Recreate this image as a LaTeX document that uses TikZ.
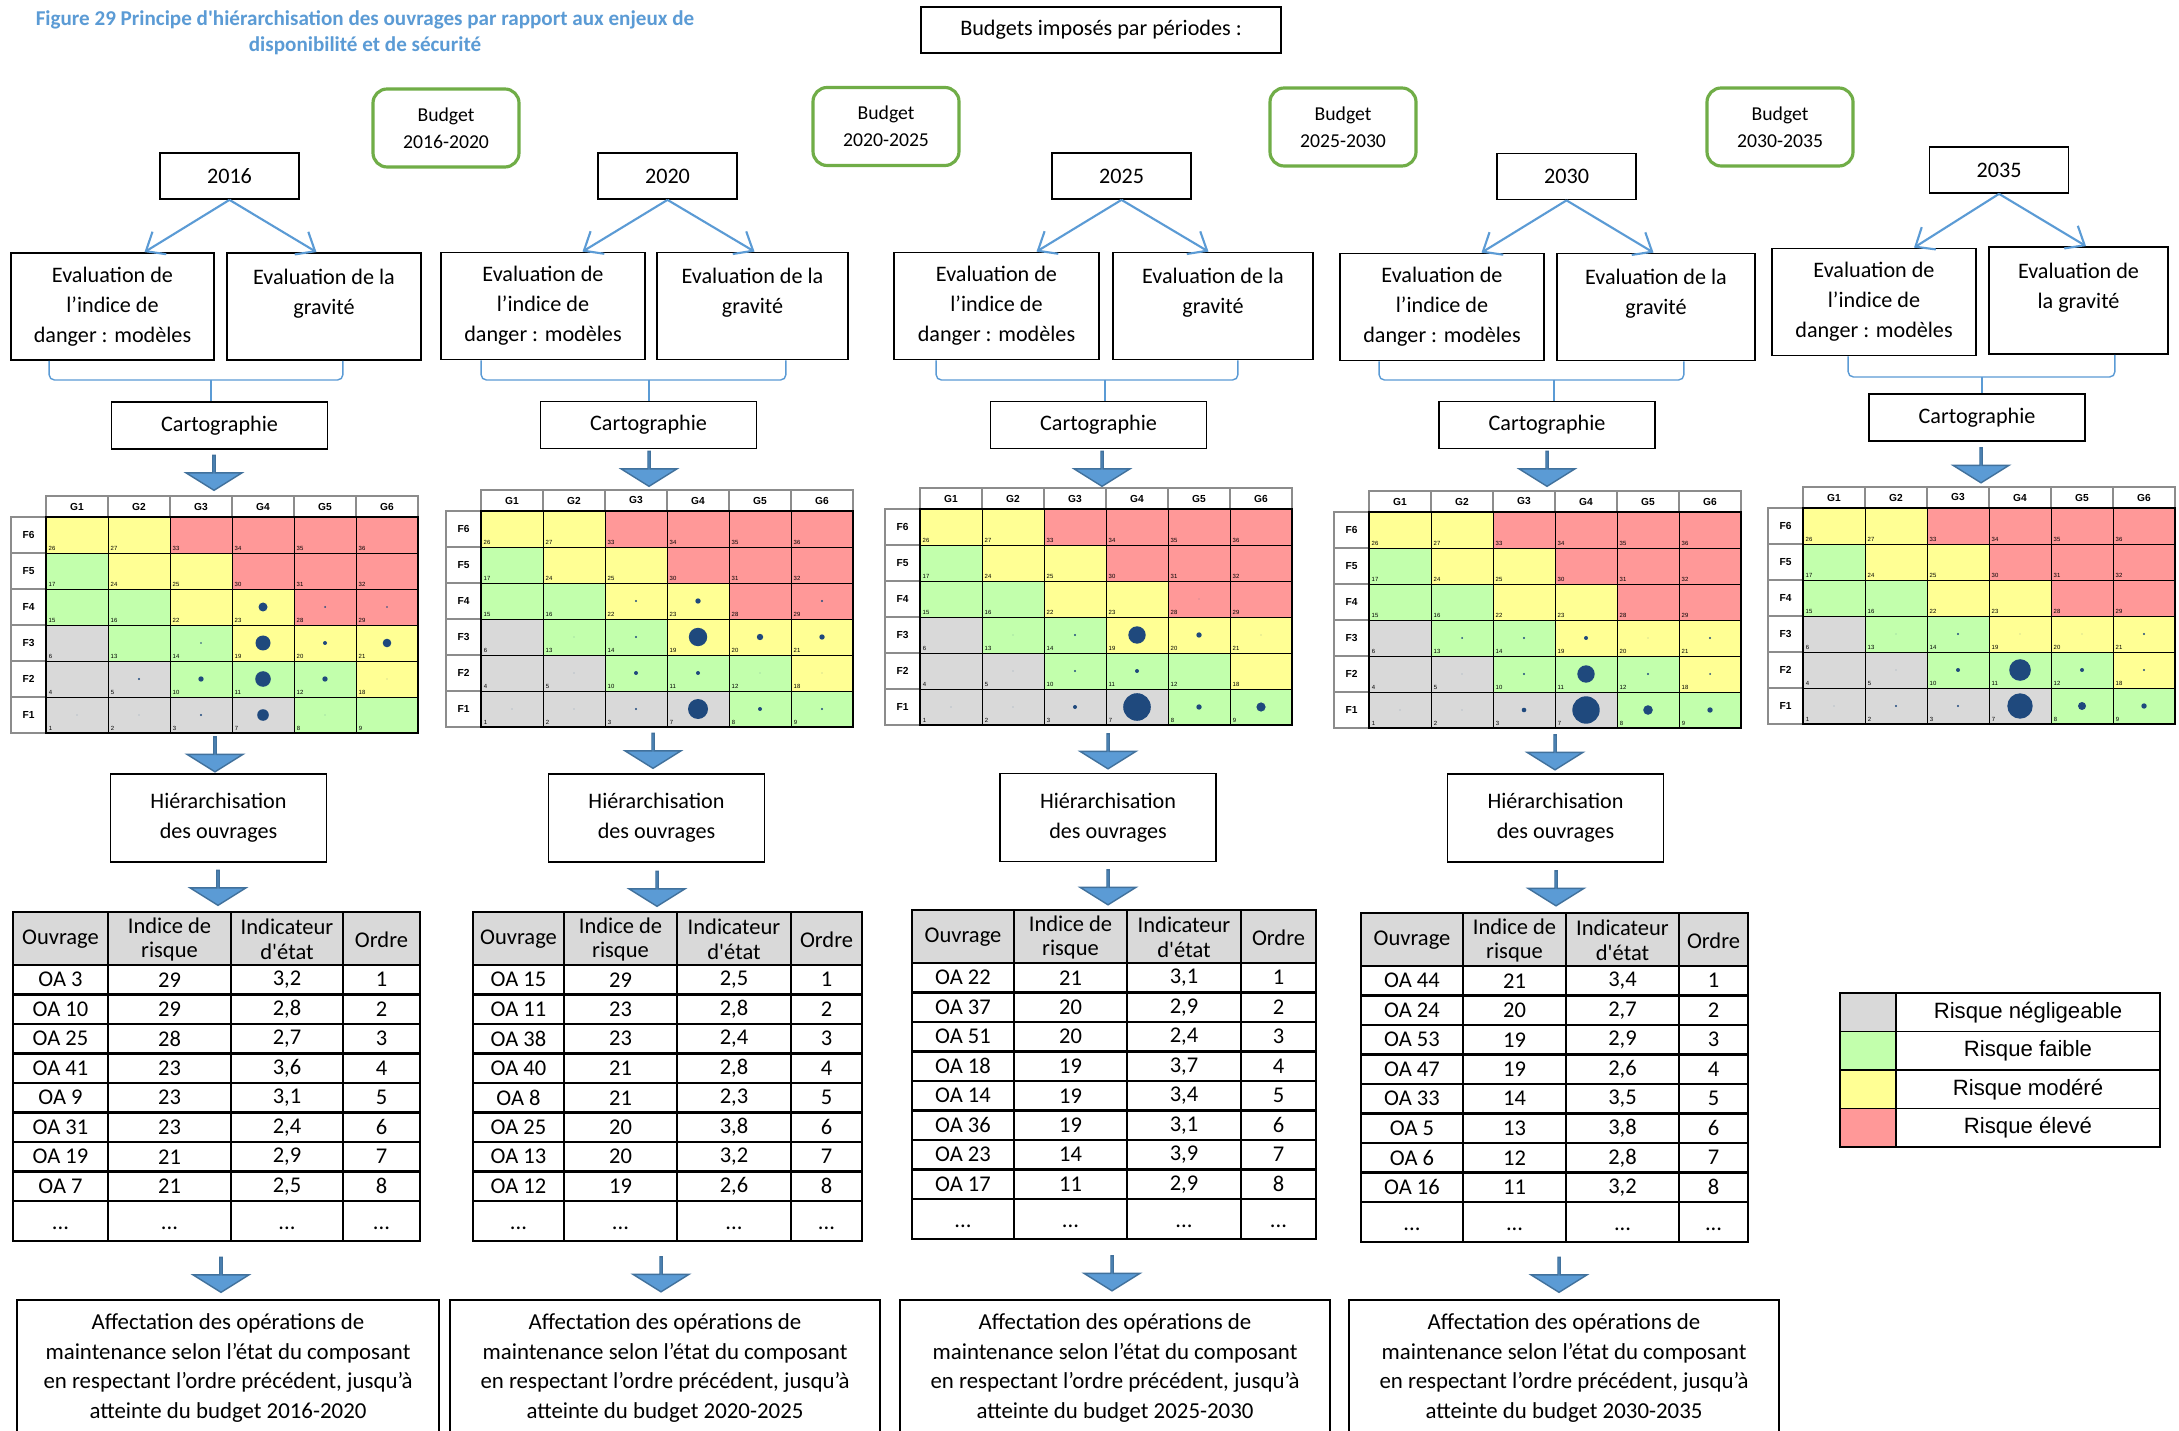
\documentclass[tikz,border=0pt]{standalone}
\usepackage{fontspec}
\setmainfont{Carlito}
\newfontfamily\arialfont{Liberation Sans}
\usetikzlibrary{arrows.meta,shapes.arrows}

\newdimen\px \px=0.01cm

\definecolor{bleu}{HTML}{5B9BD5}
\definecolor{bleufonce}{HTML}{41719C}
\definecolor{vert}{HTML}{70AD47}
\definecolor{rkN}{RGB}{217,217,217}
\definecolor{rkG}{RGB}{194,255,172}
\definecolor{rkY}{RGB}{255,255,148}
\definecolor{rkR}{RGB}{255,152,152}
\definecolor{point}{RGB}{31,73,125}

\tikzset{
  box/.style={draw, line width=0.5pt, align=center, inner sep=0pt, font=\fontsize{6.3}{8.5}\selectfont},
  yearbox/.style={box, minimum width=139\px, minimum height=46\px},
  evalbox/.style={box, minimum height=107\px},
  cartobox/.style={box, minimum width=216\px, minimum height=47\px},
  hierbox/.style={box, minimum width=216\px, minimum height=88\px},
  affbox/.style={draw, line width=0.5pt, anchor=north, minimum width=430\px, minimum height=200\px},
  afftext/.style={align=center, inner sep=0pt, font=\fontsize{6.5}{8.5}\selectfont},
  budgetbox/.style={draw=vert, line width=0.9pt, rounded corners=4pt, align=center, inner sep=0pt,
    minimum width=146\px, minimum height=78\px, font=\fontsize{5.6}{7.7}\selectfont},
  titretxt/.style={align=center, text=bleu, font=\bfseries\fontsize{6}{7.4}\selectfont},
  fleche/.style={single arrow, draw=bleufonce, fill=bleu, line width=0.4pt, rotate=-90, inner sep=0pt,
    minimum height=35\px, minimum width=56\px, single arrow head extend=18\px, single arrow tip angle=116},
  varr/.style={draw=bleu, line width=0.6pt, -{Straight Barb[length=4.5pt,width=7.5pt]}},
  brc/.style={draw=bleu, line width=0.4pt, rounded corners=1.5pt},
  mhead/.style={draw=black!45, fill=white, inner sep=0pt, minimum width=62\px, minimum height=21\px,
    font=\arialfont\bfseries\fontsize{2.9}{3}\selectfont},
  mcell/.style={draw=black, line width=0.25pt},
  mnum/.style={anchor=south west, inner sep=0pt, font=\arialfont\fontsize{1.7}{2}\selectfont},
  tabline/.style={line width=0.8pt},
  tabtxt/.style={align=center, inner sep=0pt, font=\fontsize{6.4}{7.1}\selectfont},
  legcolor/.style={draw, line width=0.5pt, minimum width=56\px, minimum height=38.5\px, inner sep=0pt},
  legtext/.style={draw, line width=0.5pt, minimum width=264\px, minimum height=38.5\px, inner sep=0pt,
    font=\arialfont\fontsize{6.3}{7}\selectfont}
}

\begin{document}
\begin{tikzpicture}[x=0.01cm, y=-0.01cm]
  \fill[white] (0,0) rectangle (2179,1431);
  \useasboundingbox (0,0) rectangle (2179,1431);

  % titre et budgets
  \node[titretxt] (titre) at (365,33) {Figure 29 Principe d\textquotesingle hiérarchisation des ouvrages par rapport aux enjeux de\\disponibilité et de sécurité};
  \node[box, minimum width=360\px, minimum height=46\px] (budgets) at (1101,30) {Budgets imposés par périodes :};
  \node[budgetbox] (b1) at (446,128) {Budget\\2016-2020};
  \node[budgetbox] (b2) at (886,126.5) {Budget\\2020-2025};
  \node[budgetbox] (b3) at (1343,127) {Budget\\2025-2030};
  \node[budgetbox] (b4) at (1780,127) {Budget\\2030-2035};

  % annees
  \node[yearbox] (a1) at (229.5,176) {2016};
  \node[yearbox] (a2) at (667.5,176) {2020};
  \node[yearbox] (a3) at (1121.5,176) {2025};
  \node[yearbox] (a4) at (1566.5,176.5) {2030};
  \node[yearbox] (a5) at (1999,170) {2035};

  % evaluations
  \node[evalbox, minimum width=203\px] (ed1) at (112.5,306.5) {Evaluation de\\l’indice de\\danger : modèles};
  \node[evalbox, minimum width=194\px] (eg1) at (324,306.5) {Evaluation de la\\gravité\\~};
  \node[evalbox, minimum width=204\px] (ed2) at (543,306) {Evaluation de\\l’indice de\\danger : modèles};
  \node[evalbox, minimum width=191\px] (eg2) at (752.5,306) {Evaluation de la\\gravité\\~};
  \node[evalbox, minimum width=205\px] (ed3) at (996.5,306) {Evaluation de\\l’indice de\\danger : modèles};
  \node[evalbox, minimum width=200\px] (eg3) at (1213,306) {Evaluation de la\\gravité\\~};
  \node[evalbox, minimum width=204\px] (ed4) at (1442,307) {Evaluation de\\l’indice de\\danger : modèles};
  \node[evalbox, minimum width=198\px] (eg4) at (1656,307) {Evaluation de la\\gravité\\~};
  \node[evalbox, minimum width=204\px] (ed5) at (1874,302) {Evaluation de\\l’indice de\\danger : modèles};
  \node[evalbox, minimum width=179\px] (eg5) at (2078.5,300.5) {Evaluation de\\la gravité\\~};

  \foreach \i in {1,...,5}{
    \draw[varr] (a\i.south) -- ([xshift=-85\px]a\i.south |- ed\i.north);
    \draw[varr] (a\i.south) -- ([xshift=87\px]a\i.south |- eg\i.north);
  }

  % cartographie
  \node[cartobox] (c1) at (219.5,425.5) {Cartographie};
  \node[cartobox] (c2) at (648.5,425) {Cartographie};
  \node[cartobox] (c3) at (1098.5,425) {Cartographie};
  \node[cartobox] (c4) at (1547,425) {Cartographie};
  \node[cartobox] (c5) at (1977,417.5) {Cartographie};

  % accolades
  \coordinate (k1) at (211,380);
  \coordinate (k2) at (649,380);
  \coordinate (k3) at (1105,380);
  \coordinate (k4) at (1554,380);
  \coordinate (k5) at (1982,377);
  \draw[brc] ([xshift=39\px]ed1.south west) |- (k1) -| ([xshift=-79\px]eg1.south east);
  \draw[brc] ([xshift=41\px]ed2.south west) |- (k2) -| ([xshift=-63\px]eg2.south east);
  \draw[brc] ([xshift=43\px]ed3.south west) |- (k3) -| ([xshift=-76\px]eg3.south east);
  \draw[brc] ([xshift=40\px]ed4.south west) |- (k4) -| ([xshift=-72\px]eg4.south east);
  \draw[brc] ([xshift=77\px]ed5.south west) |- (k5) -| ([xshift=-54\px]eg5.south east);
  \foreach \i in {1,...,5}
    \draw[brc] (k\i) -- (k\i |- c\i.north);

  % fleches pleines
  \node[fleche] (f1a) at (214,472.5) {};
  \node[fleche] (f1b) at (215,754) {};
  \node[fleche] (f1c) at (218,887.5) {};
  \node[fleche] (f1d) at (221,1274.5) {};
  \node[fleche] (f2a) at (649,468.5) {};
  \node[fleche] (f2b) at (653,750.5) {};
  \node[fleche] (f2c) at (657,888.5) {};
  \node[fleche] (f2d) at (661,1274) {};
  \node[fleche] (f3a) at (1102,468.5) {};
  \node[fleche] (f3b) at (1108,751) {};
  \node[fleche] (f3c) at (1108,887) {};
  \node[fleche] (f3d) at (1112,1273) {};
  \node[fleche] (f4a) at (1547,468.5) {};
  \node[fleche] (f4b) at (1555,752) {};
  \node[fleche] (f4c) at (1556,888) {};
  \node[fleche] (f4d) at (1559,1274.5) {};
  \node[fleche] (f5a) at (1981,465) {};

  % matrices de risque
  \foreach \m/\gx/\gy/\pts in {
    1/46/517/{4/3/4.5,5/3/1,6/3/0.8,3/4/0.8,4/4/7.5,5/4/2,6/4/4.3,2/5/1.2,3/5/2.7,4/5/7.8,5/5/2.7,6/5/0.4,1/6/0.4,2/6/0.4,3/6/1.2,4/6/5.8,5/6/0.4},
    2/481/511/{3/3/1.2,4/3/2.7,6/3/1.2,2/4/0.4,3/4/1.2,4/4/9.2,5/4/3.2,6/4/2.7,2/5/0.4,3/5/2,4/5/2,5/5/0.4,6/5/0.4,1/6/0.4,2/6/0.4,3/6/1.2,4/6/10,5/6/2,6/6/1.2},
    3/920/509/{5/3/0.4,2/4/0.4,3/4/1.2,4/4/8.7,5/4/2.7,6/4/0.4,2/5/0.4,3/5/1.2,4/5/2,1/6/0.4,2/6/0.4,3/6/2,4/6/13.8,5/6/2.7,6/6/4.6},
    4/1369/512/{2/4/1,3/4/1.2,4/4/2,5/4/0.4,6/4/1.2,2/5/0.4,3/5/1.2,4/5/8.7,5/5/1.2,6/5/1,1/6/0.4,2/6/0.4,3/6/2.3,4/6/13.7,5/6/4.8,6/6/2.7},
    5/1803/508/{2/4/0.4,3/4/1.2,4/4/0.4,5/4/0.4,6/4/1.2,2/5/0.4,3/5/2,4/5/10.8,5/5/2,6/5/1.2,1/6/0.4,2/6/1.2,3/6/1.2,4/6/12.7,5/6/4,6/6/2.7}}{
    \foreach \col in {1,...,6}
      \node[mhead] (m\m-g\col) at ({\gx+(\col-0.5)*62},{\gy-10.5}) {G\col};
    \foreach \li in {1,...,6}{
      \pgfmathtruncatemacro\fl{7-\li}
      \node[mhead, minimum width=35\px, minimum height=36\px] (m\m-f\fl) at ({\gx-17.5},{\gy+(\li-0.5)*36}) {F\fl};
    }
    \foreach \li/\ligne in {1/{Y/26,Y/27,R/33,R/34,R/35,R/36}, 2/{G/17,Y/24,Y/25,R/30,R/31,R/32},
        3/{G/15,G/16,Y/22,Y/23,R/28,R/29}, 4/{N/6,G/13,G/14,Y/19,Y/20,Y/21},
        5/{N/4,N/5,G/10,G/11,G/12,Y/18}, 6/{N/1,N/2,N/3,N/7,G/8,G/9}}
      \foreach \cl/\num [count=\col] in \ligne {
        \draw[mcell, fill=rk\cl] ({\gx+(\col-1)*62},{\gy+(\li-1)*36}) rectangle ++(62,36);
        \node[mnum] (m\m-n\num) at ({\gx+(\col-1)*62+2},{\gy+\li*36-1.5}) {\num};
      }
    \draw[line width=0.5pt] (\gx,\gy) rectangle ++(372,216);
    \foreach \dc/\dr/\rad in \pts
      \fill[point] ({\gx+(\dc-0.5)*62},{\gy+(\dr-0.5)*36}) circle[radius=\rad\px];
  }

  % hierarchisation
  \node[hierbox] (h1) at (218.5,818) {Hiérarchisation\\des ouvrages};
  \node[hierbox] (h2) at (656.5,818) {Hiérarchisation\\des ouvrages};
  \node[hierbox] (h3) at (1108,817.5) {Hiérarchisation\\des ouvrages};
  \node[hierbox] (h4) at (1555.5,818) {Hiérarchisation\\des ouvrages};

  % tableaux
  \foreach \tb/\xa/\xb/\xc/\xd/\xe/\ty/\lignes in {
    1/13/108/231/343/420/912/{OA 3/29/{3,2},OA 10/29/{2,8},OA 25/28/{2,7},OA 41/23/{3,6},OA 9/23/{3,1},OA 31/23/{2,4},OA 19/21/{2,9},OA 7/21/{2,5}},
    2/473/564/677/791/862/912/{OA 15/29/{2,5},OA 11/23/{2,8},OA 38/23/{2,4},OA 40/21/{2,8},OA 8/21/{2,3},OA 25/20/{3,8},OA 13/20/{3,2},OA 12/19/{2,6}},
    3/912/1014/1127/1241/1316/910/{OA 22/21/{3,1},OA 37/20/{2,9},OA 51/20/{2,4},OA 18/19/{3,7},OA 14/19/{3,4},OA 36/19/{3,1},OA 23/14/{3,9},OA 17/11/{2,9}},
    4/1361/1463/1566/1679/1748/913/{OA 44/21/{3,4},OA 24/20/{2,7},OA 53/19/{2,9},OA 47/19/{2,6},OA 33/14/{3,5},OA 5/13/{3,8},OA 6/12/{2,8},OA 16/11/{3,2}}}{
    \fill[rkN] (\xa,\ty) rectangle ({\xe},{\ty+53});
    \foreach \j in {0,...,8}
      \draw[tabline] ({\xa},{\ty+53+\j*29.5}) -- ({\xe},{\ty+53+\j*29.5});
    \foreach \x in {\xb,\xc,\xd}
      \draw[tabline] (\x,\ty) -- ({\x},{\ty+329});
    \draw[tabline] (\xa,\ty) rectangle ({\xe},{\ty+329});
    \node[tabtxt] (tab\tb-h1) at ({(\xa+\xb)/2},{\ty+27.5}) {Ouvrage};
    \node[tabtxt] (tab\tb-h2) at ({(\xb+\xc)/2},{\ty+27.5}) {Indice de\\risque};
    \node[tabtxt] (tab\tb-h3) at ({(\xc+\xd)/2},{\ty+27.5}) {Indicateur\\d\textquotesingle état};
    \node[tabtxt] (tab\tb-h4) at ({(\xd+\xe)/2},{\ty+27.5}) {Ordre};
    \foreach \ouv/\ind/\etat [count=\rang] in \lignes {
      \node[tabtxt] (tab\tb-o\rang) at ({(\xa+\xb)/2},{\ty+53+(\rang-0.5)*29.5}) {\ouv};
      \node[tabtxt] (tab\tb-i\rang) at ({(\xb+\xc)/2},{\ty+53+(\rang-0.5)*29.5}) {\ind};
      \node[tabtxt] (tab\tb-e\rang) at ({(\xc+\xd)/2},{\ty+53+(\rang-0.5)*29.5}) {\etat};
      \node[tabtxt] (tab\tb-r\rang) at ({(\xd+\xe)/2},{\ty+53+(\rang-0.5)*29.5}) {\rang};
    }
    \node[tabtxt] (tab\tb-p1) at ({(\xa+\xb)/2},{\ty+316}) {...};
    \node[tabtxt] (tab\tb-p2) at ({(\xb+\xc)/2},{\ty+316}) {...};
    \node[tabtxt] (tab\tb-p3) at ({(\xc+\xd)/2},{\ty+316}) {...};
    \node[tabtxt] (tab\tb-p4) at ({(\xd+\xe)/2},{\ty+316}) {...};
  }

  % affectation
  \node[affbox, minimum width=422\px] (af1) at (228,1299) {};
  \node[affbox] (af2) at (665,1299) {};
  \node[affbox] (af3) at (1115,1299) {};
  \node[affbox] (af4) at (1564,1299) {};
  \node[afftext] (aft1) at ([yshift=-69\px]af1.north) {Affectation des opérations de\\maintenance selon l’état du composant\\en respectant l’ordre précédent, jusqu’à\\atteinte du budget 2016-2020};
  \node[afftext] (aft2) at ([yshift=-69\px]af2.north) {Affectation des opérations de\\maintenance selon l’état du composant\\en respectant l’ordre précédent, jusqu’à\\atteinte du budget 2020-2025};
  \node[afftext] (aft3) at ([yshift=-69\px]af3.north) {Affectation des opérations de\\maintenance selon l’état du composant\\en respectant l’ordre précédent, jusqu’à\\atteinte du budget 2025-2030};
  \node[afftext] (aft4) at ([yshift=-69\px]af4.north) {Affectation des opérations de\\maintenance selon l’état du composant\\en respectant l’ordre précédent, jusqu’à\\atteinte du budget 2030-2035};

  % legende
  \foreach \cl/\txt [count=\rang] in {N/Risque négligeable, G/Risque faible, Y/Risque modéré, R/Risque élevé}{
    \node[legcolor, fill=rk\cl] (lc\rang) at (1868,{993+(\rang-0.5)*38.5}) {};
    \node[legtext] (lt\rang) at (2028,{993+(\rang-0.5)*38.5}) {\txt};
  }
\end{tikzpicture}
\end{document}
